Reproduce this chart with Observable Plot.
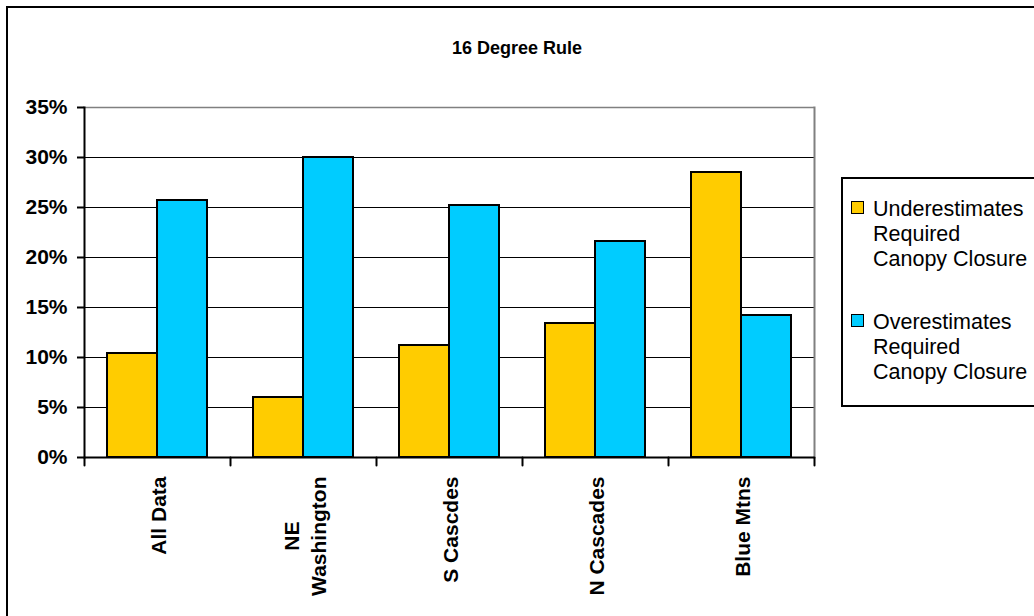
<!DOCTYPE html>
<html>
<head>
<meta charset="utf-8">
<script src="https://cdn.jsdelivr.net/npm/d3@7"></script>
<script src="https://cdn.jsdelivr.net/npm/@observablehq/plot@0.6"></script>
<style>
  body { margin: 0; background: #fff; font-family: "Liberation Sans", Arial, sans-serif; }
  #figure { position: relative; width: 1034px; height: 616px; overflow: hidden; background: #fff; }
  #border { position: absolute; left: 6px; top: 6px; width: 1100px; height: 700px; border: 2px solid #000; }
  #chart { position: absolute; left: 0; top: 0; }
  #title { position: absolute; left: 0; top: 39px; width: 1034px; text-align: center;
           font-weight: bold; font-size: 18px; line-height: 18px; color: #000; }
  #legend { position: absolute; left: 841px; top: 177px; width: 300px; height: 208px;
            padding-top: 18px; border: 2px solid #000; background: #fff; }
  #legend .item { position: relative; padding-left: 30px; margin-bottom: 38px;
                  font-size: 21.5px; line-height: 25px; white-space: pre-line; color: #000; }
  #legend .swatch { position: absolute; left: 8px; top: 4px; width: 11px; height: 11px;
                    border: 1.5px solid #000; }
</style>
</head>
<body>
<div id="figure">
  <div id="border"></div>
  <div id="chart"></div>
  <div id="title">16 Degree Rule</div>
  <div id="legend"></div>
</div>
<script>
// Regions along the x axis and the two series plotted for each
const regions = ["All Data", "NE\nWashington", "S Cascdes", "N Cascades", "Blue Mtns"];
const seriesNames = ["Underestimates\nRequired\nCanopy Closure", "Overestimates\nRequired\nCanopy Closure"];
const underestimates = [10.4, 6.0, 11.2, 13.4, 28.5];   // percent
const overestimates = [25.7, 30.0, 25.2, 21.6, 14.2];   // percent
const seriesColors = ["#FFCC00", "#00CCFF"];
const yTicks = [0, 5, 10, 15, 20, 25, 30, 35];

const rows = regions.flatMap((region, i) => [
  {region, series: seriesNames[0], value: underestimates[i]},
  {region, series: seriesNames[1], value: overestimates[i]}
]);

// a plain downward stroke used for the category boundary ticks
const tickShape = {
  draw(context, l) { context.moveTo(0, 0); context.lineTo(0, -l); }
};

const chart = Plot.plot({
  width: 1034,
  height: 616,
  marginLeft: 83,
  marginRight: 219,
  marginTop: 107,
  marginBottom: 159,
  style: {fontFamily: "'Liberation Sans', Arial, sans-serif", background: "transparent", color: "#000", overflow: "visible"},
  fx: {domain: regions, paddingInner: 0, paddingOuter: 0, label: null},
  x: {domain: seriesNames, paddingInner: 0, paddingOuter: 0.45, axis: null},
  y: {domain: [0, 35], label: null},
  color: {domain: seriesNames, range: seriesColors},
  marks: [
    Plot.ruleY(yTicks.slice(1, -1), {stroke: "#000", strokeWidth: 1}),
    Plot.ruleY([35], {stroke: "#808080", strokeWidth: 1.5}),
    Plot.frame({anchor: "right", facetAnchor: "right", stroke: "#808080", strokeWidth: 2}),
    Plot.barY(rows, {fx: "region", x: "series", y: "value", fill: "series", stroke: "#000", strokeWidth: 2}),
    Plot.ruleY([0], {stroke: "#000", strokeWidth: 2}),
    Plot.frame({anchor: "left", facetAnchor: "left", stroke: "#000", strokeWidth: 2}),
    Plot.axisY({ticks: yTicks, tickFormat: d => d + "%", tickSize: 7, tickPadding: 10,
                fontSize: 21, fontWeight: "bold", stroke: "#000", strokeWidth: 2, label: null}),
    Plot.axisFx({anchor: "bottom", tickRotate: -90, tickSize: 0, tickPadding: 19,
                 fontSize: 21, fontWeight: "bold", lineHeight: 1.3, label: null}),
    Plot.vector(regions, {fx: d => d, frameAnchor: "bottom-left", rotate: 180, length: 8, anchor: "start",
                          shape: tickShape, stroke: "#000", strokeWidth: 2}),
    Plot.vector(regions.slice(-1), {fx: d => d, frameAnchor: "bottom-right", rotate: 180, length: 8, anchor: "start",
                                    shape: tickShape, stroke: "#000", strokeWidth: 2})
  ]
});
document.getElementById("chart").append(chart);

// center the lines of multi-line category labels within their block
chart.querySelectorAll('g[aria-label="fx-axis tick label"] text').forEach(text => {
  const spans = Array.from(text.querySelectorAll("tspan"));
  if (spans.length < 2) return;
  const longest = d3.max(spans, s => s.getComputedTextLength());
  text.setAttribute("text-anchor", "middle");
  spans.forEach(s => s.setAttribute("x", -longest / 2));
});

// legend built from the chart's own color scale
const color = chart.scale("color");
const legend = document.getElementById("legend");
color.domain.forEach((name, i) => {
  const item = document.createElement("div");
  item.className = "item";
  const sw = document.createElement("span");
  sw.className = "swatch";
  sw.style.background = color.range[i];
  item.append(sw, document.createTextNode(name));
  legend.append(item);
});
</script>
</body>
</html>
